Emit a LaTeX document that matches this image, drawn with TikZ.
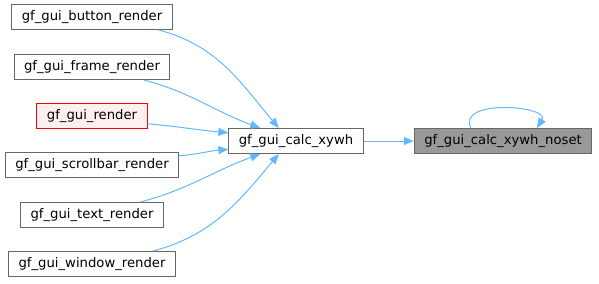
\documentclass[tikz,border=0pt]{standalone}
\usepackage{fontspec}
\setmainfont{DejaVu Sans}
\usepackage{xcolor}
\usetikzlibrary{arrows.meta, calc}
\definecolor{edgeblue}{HTML}{63B8FF}
\definecolor{boxgray}{HTML}{666666}
\definecolor{curgray}{HTML}{999999}
\definecolor{rootfill}{HTML}{FFF0F0}

\begin{document}
\begin{tikzpicture}[x=0.75pt, y=0.75pt,
    fn/.style={draw=boxgray, line width=0.75pt, fill=white, minimum height=18.75pt, inner xsep=7.5pt, inner ysep=0pt, font=\fontsize{9.9}{12}\selectfont},
    fnroot/.style={fn, draw=red, fill=rootfill},
    fncur/.style={fn, fill=curgray},
    call/.style={draw=edgeblue, line width=0.75pt, -{Triangle[length=7.5pt, width=6pt]}}]
  \useasboundingbox (0,0) rectangle (599,283);
  \node[fn] (B) at (92,266) {gf\_gui\_button\_render};
  \node[fn] (F) at (92,216) {gf\_gui\_frame\_render};
  \node[fnroot] (R) at (92,167) {gf\_gui\_render};
  \node[fn] (S) at (92,118) {gf\_gui\_scrollbar\_render};
  \node[fn] (T) at (92,68) {gf\_gui\_text\_render};
  \node[fn] (W) at (92,19) {gf\_gui\_window\_render};
  \node[fn] (C) at (296,142) {gf\_gui\_calc\_xywh};
  \node[fncur] (N) at (503,142) {gf\_gui\_calc\_xywh\_noset};
  % callers into gf_gui_calc_xywh
  \foreach \src/\sa/\o/\ta/\i in {B/-11/-15/143/130, F/-14/-15/160/160, R/-8/-5/173/175, S/6/5/187/185, T/15/15/200/200, W/12/15/217/230}{
    \draw[call] (\src.\sa) to[out=\o, in=\i] (C.\ta);
  }
  \draw[call] (C) -- (N);
  % recursive call
  \draw[call] (N.158) .. controls +(-14,30) and +(14,22) .. (N.21);
\end{tikzpicture}
\end{document}
